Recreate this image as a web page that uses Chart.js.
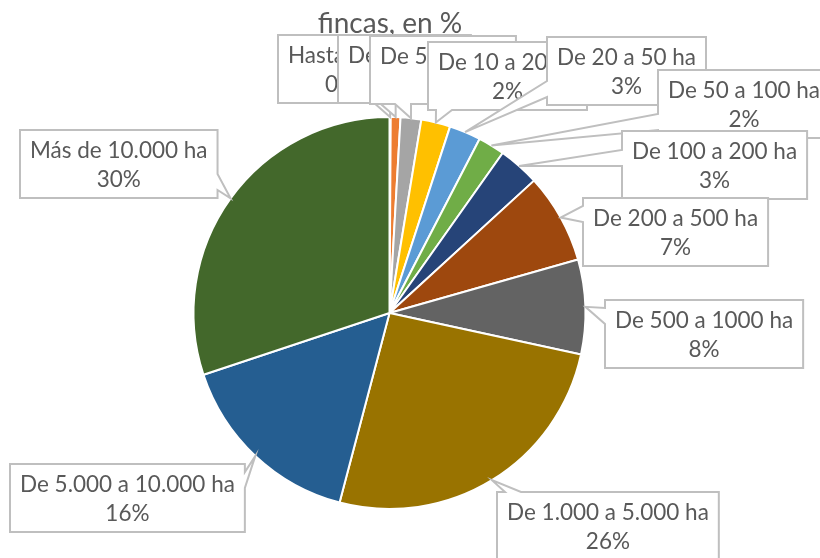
<!DOCTYPE html>
<html><head><meta charset="utf-8">
<script src="https://cdn.jsdelivr.net/npm/chart.js@4.4.0/dist/chart.umd.min.js"></script>
<style>html,body{margin:0;padding:0;background:#fff}#wrap{width:820px;height:558px;position:relative;overflow:hidden}</style>
</head><body><div id="wrap"><canvas id="c" width="820" height="558"></canvas></div>
<script>
const categories = ["Hasta 1 ha","De 1 a 5 ha","De 5 a 10 ha","De 10 a 20 ha","De 20 a 50 ha","De 50 a 100 ha","De 100 a 200 ha","De 200 a 500 ha","De 500 a 1000 ha","De 1.000 a 5.000 ha","De 5.000 a 10.000 ha","Más de 10.000 ha"];
const shares = [0.1, 0.8, 1.7, 2.4, 2.6, 2.2, 3.4, 7.4, 7.8, 25.7, 15.8, 30.1];
const shareLabels = ["0%","1%","2%","2%","3%","2%","3%","7%","8%","26%","16%","30%"];
const colors = ["#4472C4","#ED7D31","#A5A5A5","#FFC000","#5B9BD5","#70AD47","#264478","#9E480E","#636363","#997300","#255E91","#43682B"];
const titleText = "fincas, en %";
// callout box top-left corners (layout)
const boxPos = [[278,35],[338,35],[370,36],[428,42],[547,37],[658,70],[622,131],[583,198],[605,300],[497,492],[10,464],[20,130]];

const FONT = '22.5px Lato';
const TXT = '#595959';
const LINE = '#bfbfbf';

const callouts = {
  id: 'callouts',
  afterDraw(chart) {
    const ctx = chart.ctx;
    ctx.save();
    ctx.font = '28px Lato';
    ctx.fillStyle = TXT;
    ctx.textAlign = 'center';
    ctx.textBaseline = 'middle';
    ctx.fillText(titleText, 390, 24);
    const meta = chart.getDatasetMeta(0);
    ctx.font = FONT;
    meta.data.forEach((el, i) => {
      const mid = (el.startAngle + el.endAngle) / 2;
      const tx = el.x + Math.cos(mid) * el.outerRadius;
      const ty = el.y + Math.sin(mid) * el.outerRadius;
      const w = ctx.measureText(categories[i]).width + 20;
      const h = 68;
      const L = boxPos[i][0], T = boxPos[i][1], R = L + w, B = T + h;
      const dx = tx < L ? L - tx : (tx > R ? tx - R : 0);
      const dy = ty < T ? T - ty : (ty > B ? ty - B : 0);
      const bw = 16;
      ctx.beginPath();
      ctx.moveTo(L, T);
      if (dy >= dx && ty < T) {
        const p = Math.min(Math.max(tx, L + 8), R - 8 - bw);
        ctx.lineTo(p, T); ctx.lineTo(tx, ty); ctx.lineTo(p + bw, T);
      }
      ctx.lineTo(R, T);
      if (dx > dy && tx > R) {
        const p = Math.min(Math.max(ty, T + 8), B - 8 - bw);
        ctx.lineTo(R, p); ctx.lineTo(tx, ty); ctx.lineTo(R, p + bw);
      }
      ctx.lineTo(R, B);
      if (dy >= dx && ty > B) {
        const p = Math.min(Math.max(tx, L + 8 + bw), R - 8);
        ctx.lineTo(p, B); ctx.lineTo(tx, ty); ctx.lineTo(p - bw, B);
      }
      ctx.lineTo(L, B);
      if (dx > dy && tx < L) {
        const p = Math.min(Math.max(ty, T + 8 + bw), B - 8);
        ctx.lineTo(L, p); ctx.lineTo(tx, ty); ctx.lineTo(L, p - bw);
      }
      ctx.closePath();
      ctx.fillStyle = '#ffffff';
      ctx.fill();
      ctx.lineWidth = 2;
      ctx.strokeStyle = LINE;
      ctx.stroke();
      ctx.fillStyle = TXT;
      ctx.fillText(categories[i], L + w / 2, T + 21);
      ctx.fillText(shareLabels[i], L + w / 2, T + 50);
    });
    ctx.restore();
  }
};

new Chart(document.getElementById('c'), {
  type: 'pie',
  data: {
    labels: categories,
    datasets: [{
      data: shares,
      backgroundColor: colors,
      borderColor: '#ffffff',
      borderWidth: 2
    }]
  },
  options: {
    responsive: false,
    devicePixelRatio: 1,
    animation: false,
    layout: { padding: { top: 116, bottom: 48, left: 150, right: 191 } },
    plugins: { legend: { display: false }, tooltip: { enabled: false }, title: { display: false } }
  },
  plugins: [callouts]
});
</script>
</body></html>
